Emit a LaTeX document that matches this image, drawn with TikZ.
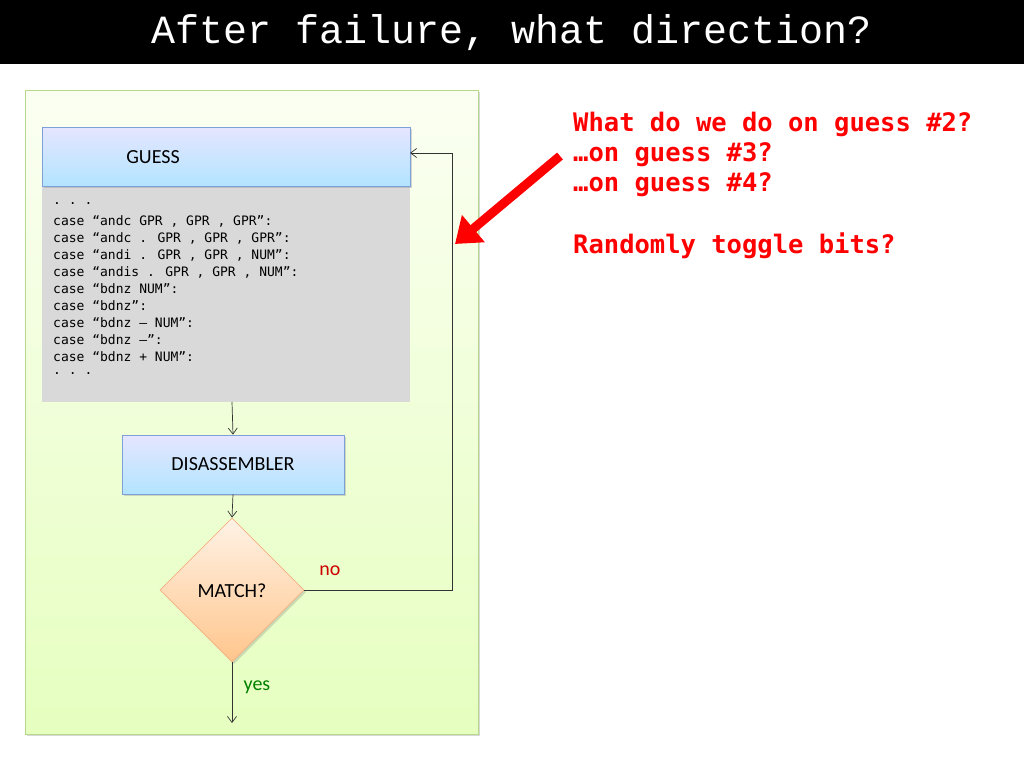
\documentclass[tikz,border=0pt]{standalone}
\usepackage{fontspec}
\setmainfont{Carlito}
\newfontfamily\monof{DejaVu Sans Mono}
\newfontfamily\titlef{Liberation Mono}
\usetikzlibrary{shapes.geometric,arrows.meta,shadows}
\definecolor{blueB}{HTML}{7DA0D8}
\definecolor{orangeB}{HTML}{F4B183}
\definecolor{greenB}{HTML}{B5D98A}
\begin{document}
\begin{tikzpicture}[x=1pt,y=-1pt,
  box/.style={draw=#1,line width=0.8pt,drop shadow={opacity=0.3,shadow xshift=2pt,shadow yshift=-2pt}},
  conn/.style={draw=black!80,line width=0.7pt,-{Straight Barb[length=6pt,width=9pt]}},
  lab/.style={font=\fontsize{20}{24}\selectfont,inner sep=0pt},
  redtxt/.style={font=\monof\bfseries\fontsize{25.5}{29}\selectfont,text=red,anchor=west,inner sep=0pt}]
\useasboundingbox (0,0) rectangle (1024,768);
\fill[white] (0,0) rectangle (1024,768);
\fill[black] (0,0) rectangle (1024,64);
\node[text=white,font=\titlef\fontsize{40}{44}\selectfont] (title) at (512,33) {After failure, what direction?};
\node[draw=greenB,line width=0.8pt,top color=green!8!lime!5,bottom color=green!20!lime!25,minimum width=453pt,minimum height=644pt,drop shadow={opacity=0.3,shadow xshift=2pt,shadow yshift=-2pt},inner sep=0pt] (panel) at (251.5,412) {};
\node[fill=black!15,minimum width=368pt,minimum height=216pt,inner sep=0pt] (code) at (226,294) {};
\node[box=blueB,top color=blue!10,bottom color=blue!35!cyan!30,minimum width=368pt,minimum height=59pt,inner sep=0pt] (guess) at (226,156.5) {};
\node[lab] (gt) at (153,157) {GUESS};
\foreach \t [count=\i from 0] in {{.~.~.},{case “andc GPR , GPR , GPR”:},{case “andc . GPR , GPR , GPR”:},{case “andi . GPR , GPR , NUM”:},{case “andis . GPR , GPR , NUM”:},{case “bdnz NUM”:},{case “bdnz”:},{case “bdnz – NUM”:},{case “bdnz –”:},{case “bdnz + NUM”:},{.~.~.}}
  \node[font=\monof\fontsize{13}{15}\selectfont,anchor=west,inner sep=0pt] (c\i) at (53,{204+17*\i}) {\t};
\node[box=blueB,top color=blue!10,bottom color=blue!35!cyan!30,minimum width=222pt,minimum height=59pt,inner sep=0pt] (dis) at (233,464.5) {};
\node[lab] (dt) at (233,464.5) {DISASSEMBLER};
\node[diamond,box=orangeB,top color=orange!10,bottom color=orange!45,minimum width=144pt,minimum height=144pt,inner sep=0pt,aspect=1] (match) at (232,590) {};
\node[lab] (mt) at (232,591) {MATCH?};
\coordinate (c1b) at (232,402);
\coordinate (c2) at (452,590);
\coordinate (c3) at (452,153);
\coordinate (c4) at (410,153);
\coordinate (end) at (232,723);
\draw[conn] (c1b) -- (dis.north);
\draw[conn] (dis.south) -- (match.north);
\draw[conn] (match.east) -- (c2) -- (c3) -- (c4);
\draw[conn] (match.south) -- (end);
\node[lab,text=red!80!black] (no) at (330,571) {no};
\node[lab,text=green!50!black] (yes) at (257,687) {yes};
\coordinate (ra) at (560,156);
\coordinate (rb) at (455,244);
\draw[red,line width=9pt,-{Triangle[length=24pt,width=34pt]}] (ra) -- (rb);
\node[redtxt] (r1) at (573,124) {What do we do on guess \#2?};
\node[redtxt] (r2) at (573,155) {…on guess \#3?};
\node[redtxt] (r3) at (573,185) {…on guess \#4?};
\node[redtxt] (r4) at (573,246) {Randomly toggle bits?};
\end{tikzpicture}
\end{document}
